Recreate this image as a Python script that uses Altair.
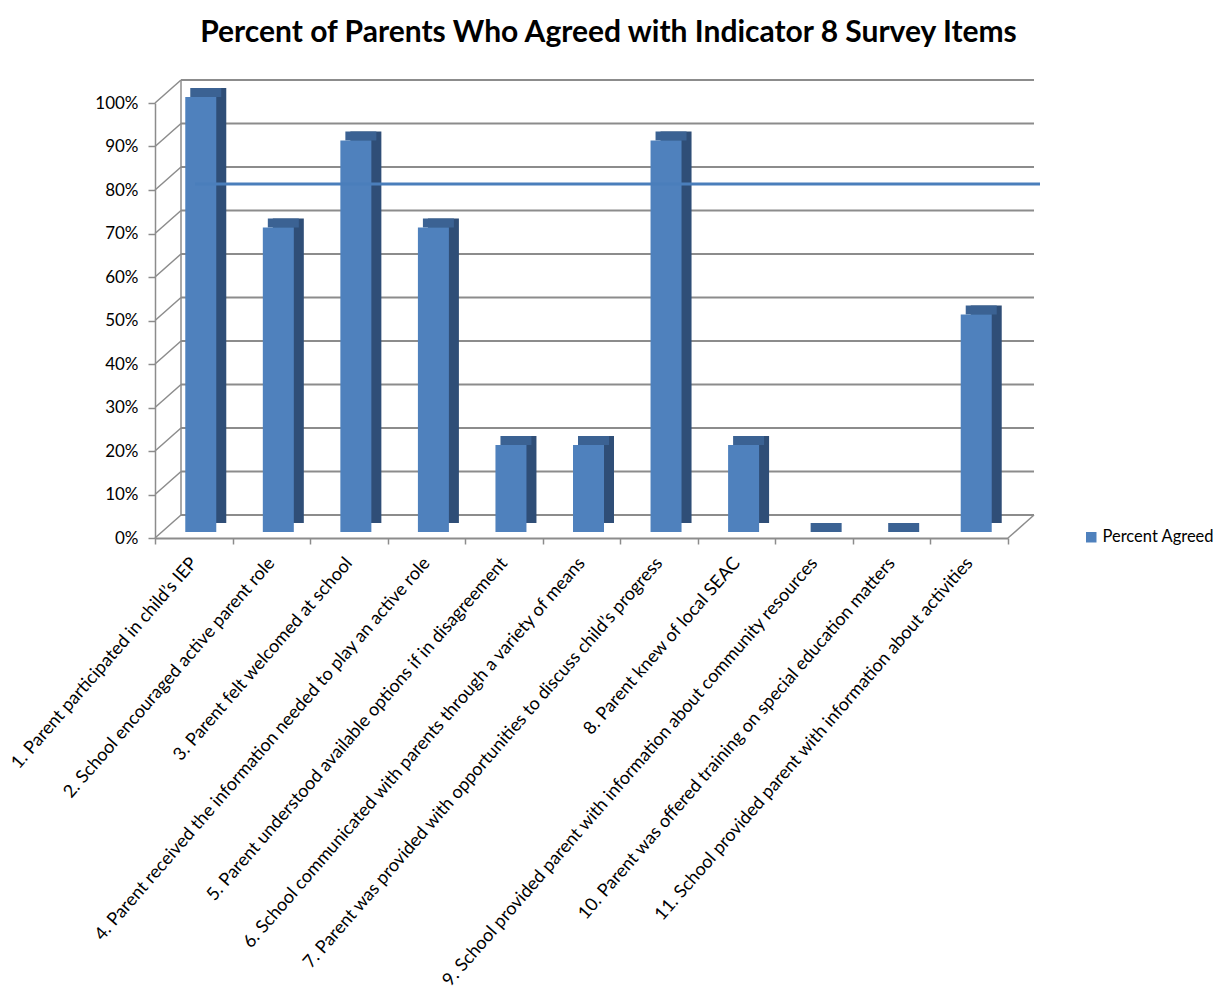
import altair as alt
import pandas as pd

# ---------------- data ----------------
categories = [
    "1. Parent participated in child\u2019s IEP",
    "2. School encouraged active parent role",
    "3. Parent felt welcomed at school",
    "4. Parent received the information needed to play an active role",
    "5. Parent understood available options if in disagreement",
    "6. School communicated with parents through a variety of means",
    "7. Parent was provided with opportunities to discuss child\u2019s progress",
    "8. Parent knew of local SEAC",
    "9. School provided parent with information about community resources",
    "10. Parent was offered training on special education matters",
    "11. School provided parent with information about activities",
]
percent_agreed = [100, 70, 90, 70, 20, 20, 90, 20, 0, 0, 50]
target_value = 80
y_ticks = [0, 10, 20, 30, 40, 50, 60, 70, 80, 90, 100]
series_name = "Percent Agreed"
chart_title = "Percent of Parents Who Agreed with Indicator 8 Survey Items"

# ---------------- styling ----------------
W, H = 853, 435
FONT = "Lato"
FRONT = "#4F81BD"
SIDE = "#2F4E77"
TOP = "#3B6293"
GRID = "#8C8C8C"
BAR_DX, BAR_DY = 7, -6          # bar plane offset from the front plane
BACK_DX, BACK_DY = 26, -23      # back wall offset from the front plane
DEPTH_DX, DEPTH_DY = 10, -9     # bar depth
BAR_W = 31

bars = pd.DataFrame({"item": categories, "value": percent_agreed,
                     "series": [series_name] * len(categories)})
ticks = pd.DataFrame({"v": y_ticks})
wall = pd.DataFrame({"lo": [min(y_ticks)], "hi": [max(y_ticks)]})
tgt = pd.DataFrame({"t": [target_value]})

xscale = alt.Scale(domain=categories, paddingInner=0, paddingOuter=0)
yscale = alt.Scale(domain=[0, 100], nice=False)

xaxis = alt.Axis(labelAngle=-49, labelAlign="right", labelBaseline="middle",
                 labelFont=FONT, labelFontSize=18, labelColor="#000000",
                 labelLimit=2000, labelPadding=16, tickBand="extent",
                 tickSize=6, tickColor=GRID, domainColor=GRID,
                 domainWidth=2, tickWidth=1.5, grid=False, title=None)
yaxis = alt.Axis(values=y_ticks, labelExpr="datum.value + '%'",
                 labelFont=FONT, labelFontSize=17, labelColor="#000000",
                 tickSize=7, labelPadding=10, tickColor=GRID,
                 domainColor=GRID, domainWidth=1.5, tickWidth=1.5,
                 grid=False, title=None)


def Y(field):
    return alt.Y(field, scale=yscale, axis=yaxis, title=None)


def X(field):
    return alt.X(field, scale=xscale, sort=categories, axis=xaxis, title=None)


# back wall gridlines
back_grid = alt.Chart(ticks).mark_rule(
    color=GRID, strokeWidth=2, xOffset=BACK_DX, x2Offset=BACK_DX, yOffset=BACK_DY
).encode(
    x=alt.value(0), x2=alt.value(W),
    y=Y("v:Q"),
)

# left wall diagonals
left_wall = alt.Chart(ticks).mark_rule(
    color=GRID, strokeWidth=1.5, x2Offset=BACK_DX, y2Offset=BACK_DY
).encode(
    x=alt.value(0), x2=alt.value(0),
    y=Y("v:Q"), y2=alt.Y2("v:Q"),
)

# back-left vertical edge
back_edge = alt.Chart(wall).mark_rule(
    color=GRID, strokeWidth=1.5, xOffset=BACK_DX, yOffset=BACK_DY, y2Offset=BACK_DY
).encode(
    x=alt.value(0),
    y=Y("lo:Q"), y2=alt.Y2("hi:Q"),
)

# right floor diagonal
floor_right = alt.Chart(wall).mark_rule(
    color=GRID, strokeWidth=1.5, x2Offset=BACK_DX, y2Offset=BACK_DY
).encode(
    x=alt.value(W), x2=alt.value(W),
    y=Y("lo:Q"), y2=alt.Y2("lo:Q"),
)

# bar side (depth block)
side = alt.Chart(bars).mark_bar(
    size=BAR_W, color=SIDE,
    xOffset=BAR_DX + DEPTH_DX, yOffset=BAR_DY + DEPTH_DY,
).encode(
    x=X("item:N"),
    y=Y("value:Q"),
)

# bar top
top = alt.Chart(bars).mark_tick(
    size=BAR_W, thickness=abs(DEPTH_DY), color=TOP, opacity=1,
    xOffset=BAR_DX + DEPTH_DX / 2, yOffset=BAR_DY + DEPTH_DY / 2,
).encode(
    x=X("item:N"),
    y=Y("value:Q"),
)

# front faces with legend
front = alt.Chart(bars).mark_bar(
    size=BAR_W, xOffset=BAR_DX, yOffset=BAR_DY,
).encode(
    x=X("item:N"),
    y=Y("value:Q"),
    color=alt.Color("series:N",
                    scale=alt.Scale(domain=[series_name], range=[FRONT]),
                    legend=alt.Legend(title=None, orient="none", legendX=928, legendY=426,
                                      symbolType="square", symbolSize=110,
                                      symbolStrokeWidth=0,
                                      labelFont=FONT, labelFontSize=16.5,
                                      labelColor="#000000", padding=0, labelOffset=3)),
)

# target line
target_line = alt.Chart(tgt).mark_rule(
    color="#4A7EBB", strokeWidth=3, yOffset=BAR_DY,
).encode(
    x=alt.value(40), x2=alt.value(W + 32),
    y=Y("t:Q"),
)

chart = alt.layer(
    back_grid, left_wall, back_edge, floor_right, side, top, front, target_line
).properties(
    width=W, height=H,
    title=alt.TitleParams(chart_title, font=FONT, fontSize=30, fontWeight="bold",
                          color="#000000", anchor="middle", dx=27,
                          baseline="alphabetic", offset=7),
    autosize=alt.AutoSizeParams(type="none"),
    padding={"left": 155, "top": 103, "right": 1224 - 155 - W, "bottom": 1005 - 103 - H},
).configure_view(stroke=None)

chart.save("out.html", embed_options={"renderer": "svg", "actions": False})
